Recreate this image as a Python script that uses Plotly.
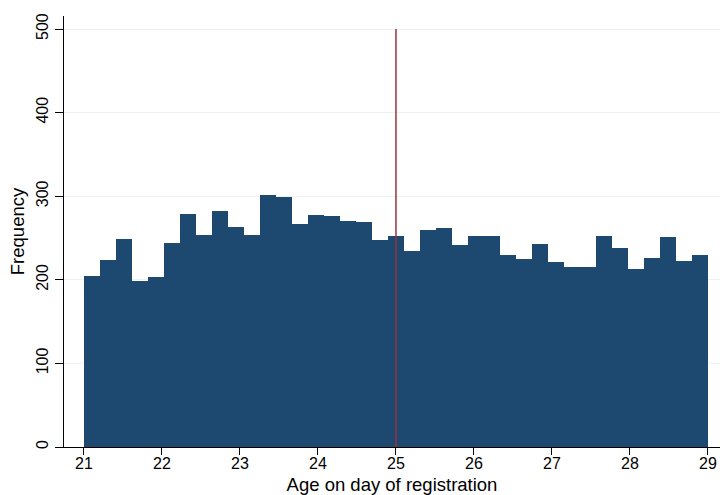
import plotly.graph_objects as go

# Histogram data: 39 equal-width bins from 21 to 29
bin_start = 21.0
bin_end = 29.0
counts = [205, 224, 249, 198, 203, 244, 279, 254, 282, 263,
          254, 302, 299, 267, 277, 276, 270, 269, 248, 252,
          234, 260, 262, 242, 252, 253, 230, 225, 243, 221,
          215, 215, 252, 238, 213, 226, 251, 222, 230]
cutoff = 25
y_ticks = [0, 100, 200, 300, 400, 500]
x_ticks = [21, 22, 23, 24, 25, 26, 27, 28, 29]

n_bins = len(counts)
width = (bin_end - bin_start) / n_bins
centers = [bin_start + width * (i + 0.5) for i in range(n_bins)]

fig = go.Figure()
fig.add_trace(go.Bar(
    x=centers, y=counts, width=width,
    marker=dict(color="#1d486f", line=dict(width=0)),
    hoverinfo="x+y",
))
fig.add_shape(type="line", x0=cutoff, x1=cutoff, y0=0, y1=500,
              xref="x", yref="y",
              line=dict(color="#93363d", width=1.5))

font = "Liberation Sans, Arial, sans-serif"
fig.update_layout(
    width=720, height=495,
    margin=dict(l=64, r=0, t=16, b=48, autoexpand=False),
    paper_bgcolor="white", plot_bgcolor="white",
    showlegend=False, bargap=0,
    font=dict(family=font, color="black", size=16),
    xaxis=dict(
        range=[20.744, 29.154], tickvals=x_ticks,
        showgrid=False, zeroline=False,
        showline=True, linecolor="black", linewidth=1.3,
        ticks="outside", ticklen=7, tickcolor="black", tickwidth=1,
        tickfont=dict(size=16), ticklabelstandoff=-5,
        title=dict(text="Age on day of registration", font=dict(size=18.5), standoff=8),
    ),
    yaxis=dict(
        range=[0, 515.6], tickvals=y_ticks,
        showgrid=True, gridcolor="#eaf2f3", gridwidth=1,
        zeroline=False,
        showline=True, linecolor="black", linewidth=1.3,
        ticks="outside", ticklen=8, tickcolor="black", tickwidth=1,
        tickangle=-90, tickfont=dict(size=16),
        title=dict(text="Frequency", font=dict(size=18.5), standoff=4),
    ),
)

fig.write_html("out.html", config={"displayModeBar": False},
               post_script="document.body.style.margin='0';document.body.style.overflow='hidden';")
